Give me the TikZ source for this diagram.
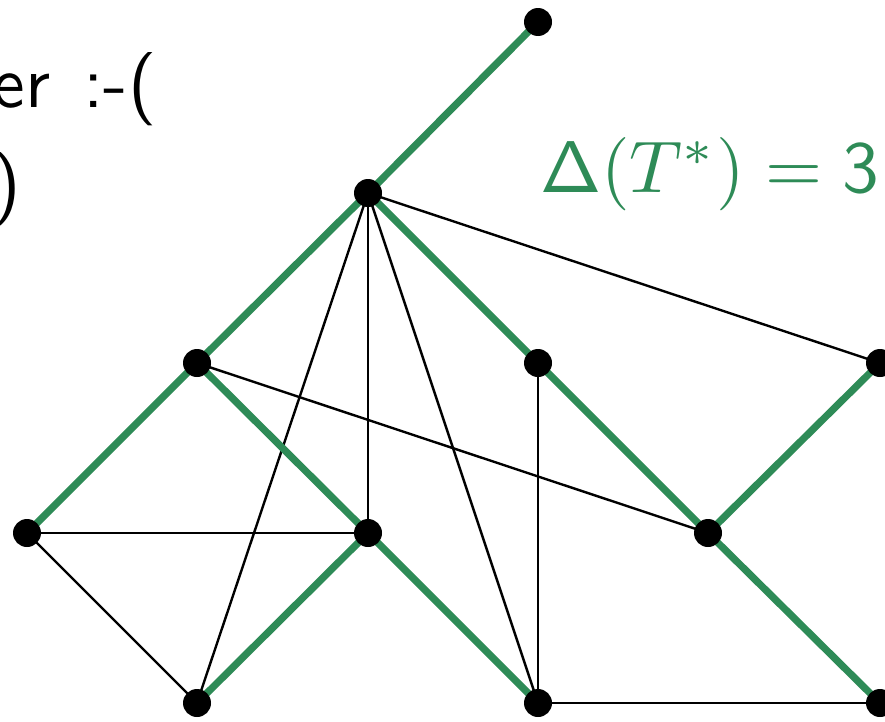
\documentclass[tikz,border=0pt]{standalone}
\usepackage{graphicx}
\usepackage{xcolor}
\definecolor{treegreen}{RGB}{46,139,87}
\newcommand{\bigtxt}[1]{\scalebox{5.5}{\normalsize\sffamily #1}}
\begin{document}
\begin{tikzpicture}[x=0.75pt,y=-0.75pt,
  vtx/.style={circle,fill=black,inner sep=0pt,minimum size=21pt},
  tree/.style={treegreen,line width=5.4pt},
  plain/.style={black,line width=1.8pt},
  txt/.style={inner sep=0pt}]
\useasboundingbox (0,0) rectangle (885,721);
\clip (0,0) rectangle (885,721);
\coordinate (A) at (538,22);
\coordinate (B) at (368,193);
\coordinate (C) at (197,363);
\coordinate (D) at (538,363);
\coordinate (E) at (880,363);
\coordinate (F) at (27,533);
\coordinate (G) at (368,533);
\coordinate (H) at (708,533);
\coordinate (I) at (197,703);
\coordinate (J) at (538,703);
\coordinate (K) at (880,703);
% non-tree edges
\foreach \u/\v in {B/E,B/G,B/I,B/J,C/H,F/G,F/I,D/J,J/K}
  \draw[plain] (\u) -- (\v);
% tree edges
\foreach \u/\v in {A/B,B/C,B/D,C/F,C/G,G/I,G/J,D/H,H/E,H/K}
  \draw[tree] (\u) -- (\v);
\foreach \p in {A,B,C,D,E,F,G,H,I,J,K}
  \node[vtx] (n\p) at (\p) {};
\node[txt,anchor=base east] (t1) at (157,107) {\bigtxt{ver\ \hspace{1.2pt}:-(}};
\node[txt,anchor=base east] (t2) at (21,207) {\bigtxt{)}};
\node[txt,anchor=base west,text=treegreen] (delta) at (540,192) {\bigtxt{$\mathsf{\Delta}(T^*)=\mathsf{3}$}};
\end{tikzpicture}
\end{document}
